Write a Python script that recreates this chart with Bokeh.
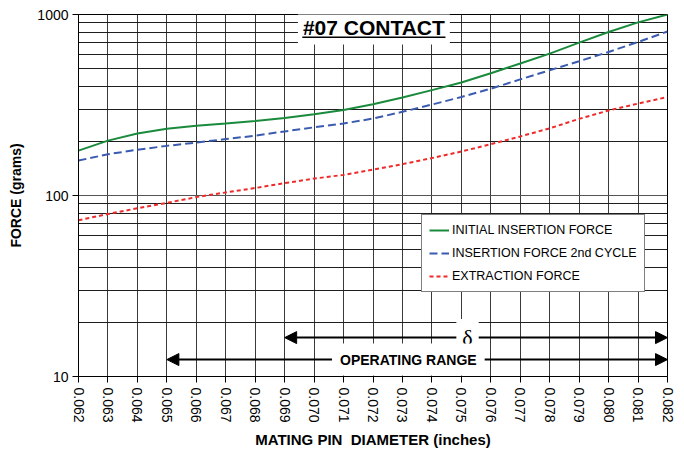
from bokeh.plotting import figure
from bokeh.models import FixedTicker, Legend, LegendItem, Label, Arrow, NormalHead
from bokeh.embed import file_html
from bokeh.resources import INLINE

# ---------------- data ----------------
diameter = [0.062, 0.063, 0.064, 0.065, 0.066, 0.067, 0.068, 0.069, 0.070, 0.071,
            0.072, 0.073, 0.074, 0.075, 0.076, 0.077, 0.078, 0.079, 0.080, 0.081, 0.082]
tick_labels = ["0.062", "0.063", "0.064", "0.065", "0.066", "0.067", "0.068", "0.069",
               "0.070", "0.071", "0.072", "0.073", "0.074", "0.075", "0.076", "0.077",
               "0.078", "0.079", "0.080", "0.081", "0.082"]
initial_insertion = [177, 201, 220, 234, 243, 250, 258, 268, 281, 297,
                     319, 348, 382, 421, 474, 536, 608, 699, 800, 905, 1000]
insertion_2nd = [156, 169, 179, 188, 196, 205, 214, 226, 238, 250,
                 266, 290, 318, 350, 389, 438, 492, 552, 621, 705, 805]
extraction = [73, 79, 85, 91, 98, 104, 110, 117, 124, 130,
              139, 149, 161, 175, 192, 212, 235, 265, 295, 322, 350]
series_names = ["INITIAL INSERTION FORCE", "INSERTION FORCE 2nd CYCLE", "EXTRACTION FORCE"]
y_major_ticks = [10, 100, 1000]
y_major_labels = ["10", "100", "1000"]
y_minor_ticks = [20, 30, 40, 50, 60, 70, 80, 90, 200, 300, 400, 500, 600, 700, 800, 900]
delta_range = [0.069, 0.082]
operating_range = [0.065, 0.082]
# --------------------------------------

FONT = "Liberation Sans"

p = figure(width=680, height=450, output_backend="svg", toolbar_location=None,
           x_range=(diameter[0], diameter[-1]), y_range=(y_major_ticks[0], y_major_ticks[-1]),
           y_axis_type="log", min_border_left=78, min_border_right=13,
           min_border_top=14, min_border_bottom=71)
p.background_fill_color = "white"
p.border_fill_color = "white"
p.outline_line_color = "black"
p.outline_line_width = 1

# axes
p.xaxis.ticker = FixedTicker(ticks=diameter)
p.xaxis.major_label_overrides = {d: l for d, l in zip(diameter, tick_labels)}
p.xaxis.major_label_orientation = "vertical"
p.xaxis.axis_label = "MATING PIN \u00a0DIAMETER (inches)"
p.yaxis.axis_label = "FORCE (grams)"
yt = FixedTicker(ticks=y_major_ticks, minor_ticks=y_minor_ticks)
p.yaxis.ticker = yt
p.yaxis.major_label_overrides = {t: l for t, l in zip(y_major_ticks, y_major_labels)}

for ax in (p.xaxis[0], p.yaxis[0]):
    ax.axis_line_color = "black"
    ax.major_tick_line_color = "black"
    ax.major_tick_out = 6
    ax.major_tick_in = 0
    ax.minor_tick_line_color = None
    ax.major_label_text_font = FONT
    ax.major_label_text_font_size = "14px"
    ax.major_label_text_color = "black"
    ax.axis_label_text_font = FONT
    ax.axis_label_text_font_style = "bold"
    ax.axis_label_text_color = "black"
p.xaxis.axis_label_text_font_size = "15px"
p.yaxis.axis_label_text_font_size = "14px"
p.xaxis.axis_label_standoff = 5
p.yaxis.axis_label_standoff = 10
p.xaxis.major_label_standoff = 5
p.yaxis.major_label_standoff = 4

p.xgrid.ticker = FixedTicker(ticks=diameter)
p.xgrid.grid_line_color = "#3a3a3a"
p.xgrid.grid_line_width = 1
p.ygrid.ticker = yt
p.ygrid.grid_line_color = "#555555"
p.ygrid.minor_grid_line_color = "#1e1e1e"
p.ygrid.grid_line_width = 1

r1 = p.line(diameter, initial_insertion, line_color="#1a8a3c", line_width=2)
r2 = p.line(diameter, insertion_2nd, line_color="#3a5bb0", line_width=2, line_dash="8 4")
r3 = p.line(diameter, extraction, line_color="#ee2a2a", line_width=2, line_dash="4 3")

legend = Legend(items=[LegendItem(label=series_names[0], renderers=[r1]),
                       LegendItem(label=series_names[1], renderers=[r2]),
                       LegendItem(label=series_names[2], renderers=[r3])],
                location=(343, 84))
legend.label_text_font = FONT
legend.label_text_font_size = "12.5px"
legend.label_text_color = "black"
legend.border_line_color = "black"
legend.border_line_width = 1
legend.background_fill_color = "white"
legend.background_fill_alpha = 1
legend.padding = 7
legend.spacing = 7
legend.label_height = 16
legend.glyph_height = 16
legend.glyph_width = 20
legend.label_standoff = 3
legend.margin = 0
p.add_layout(legend, "center")

# range arrows
delta_y = 16.4
op_y = 12.4
for rng, yy in ((delta_range, delta_y), (operating_range, op_y)):
    p.add_layout(Arrow(x_start=rng[0], x_end=rng[1], y_start=yy, y_end=yy,
                       line_color="black", line_width=2,
                       start=NormalHead(size=12, fill_color="black", line_color="black"),
                       end=NormalHead(size=12, fill_color="black", line_color="black")))

p.add_layout(Label(x=0.07521, y=delta_y, text="δ", text_font="Liberation Serif",
                   text_font_size="22px", text_color="black", text_align="center",
                   text_baseline="middle", background_fill_color="white",
                   background_fill_alpha=1, padding=6))
p.add_layout(Label(x=0.0732, y=op_y, text="OPERATING RANGE", text_font=FONT,
                   text_font_style="bold", text_font_size="14px", text_color="black",
                   text_align="center", text_baseline="middle",
                   background_fill_color="white", background_fill_alpha=1, padding=8))

# title inside plot, underlined
title_x = 0.07203
title_y = 843
p.add_layout(Label(x=title_x, y=title_y, text="#07 CONTACT", text_font=FONT,
                   text_font_style="bold", text_font_size="21px", text_color="black",
                   text_align="center", text_baseline="middle",
                   background_fill_color="white", background_fill_alpha=1, padding=5))
half_w = 0.00243
p.segment(x0=[title_x - half_w], x1=[title_x + half_w], y0=[title_y * 0.889],
          y1=[title_y * 0.889], line_color="black", line_width=1.5, level="overlay")

open("out.html", "w").write(file_html(p, INLINE))
